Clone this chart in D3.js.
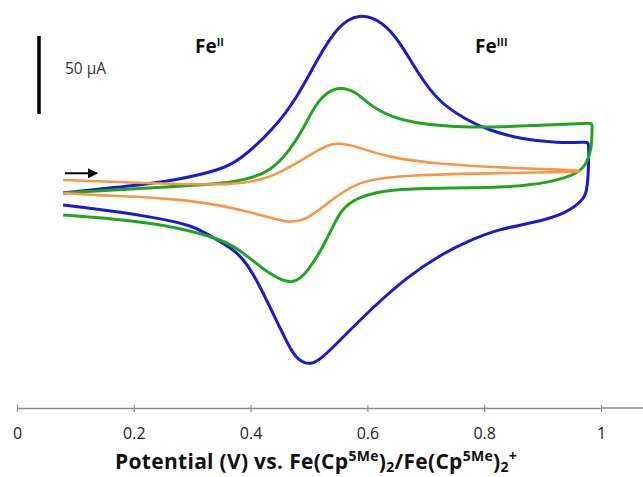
<!DOCTYPE html>
<html>
<head>
<meta charset="utf-8">
<script src="https://cdn.jsdelivr.net/npm/d3@7"></script>
<style>
  body { margin: 0; background: #fff; }
  svg { display: block; }
</style>
</head>
<body>
<svg id="chart" width="643" height="477"></svg>
<script>
// potential (V) and current (uA), one closed sweep per scan rate
const xTicks = [0, 0.2, 0.4, 0.6, 0.8, 1];

const blueV = [0.079, 0.142, 0.188, 0.274, 0.348, 0.382, 0.438, 0.479, 0.514, 0.548, 0.585, 0.627, 0.656, 0.690, 0.724, 0.771, 0.805, 0.866, 0.925, 0.977, 0.979,
  0.979, 0.976, 0.969, 0.942, 0.884, 0.827, 0.776, 0.724, 0.668, 0.610, 0.553, 0.524, 0.502, 0.479, 0.467, 0.438, 0.411, 0.382, 0.342, 0.301, 0.228, 0.188, 0.079];
const blueI = [-0.6, 2, 3.5, 7.7, 14.1, 20.5, 39.7, 60, 85, 106, 115, 109, 96, 74, 57, 46, 40, 33.5, 31.5, 32, 32,
  16, 0, -5.1, -13.5, -19.9, -23.5, -30.8, -40.4, -54.5, -73.7, -95, -106, -111.5, -107, -100, -77.6, -56.4, -39.1, -30.8, -21, -16, -13.5, -8.3];

const greenV = [0.079, 0.245, 0.382, 0.438, 0.467, 0.490, 0.514, 0.548, 0.582, 0.599, 0.639, 0.695, 0.805, 0.896, 0.985, 0.985,
  0.984, 0.976, 0.964, 0.913, 0.827, 0.724, 0.639, 0.582, 0.553, 0.531, 0.497, 0.473, 0.438, 0.382, 0.353, 0.274, 0.188, 0.079];
const greenI = [-0.6, 3.2, 5.5, 14.1, 26.9, 40, 59, 68.5, 64, 57, 48, 43, 41, 42.9, 44.2, 44.2,
  26.9, 19.2, 12.2, 5.8, 2.6, 2.6, 1.9, -3.2, -11.5, -30.8, -51.9, -59.5, -54.5, -37.2, -30.8, -22.4, -17.9, -14.7];

const orangeV = [0.079, 0.211, 0.382, 0.438, 0.497, 0.541, 0.582, 0.639, 0.724, 0.839, 0.952, 0.969,
  0.952, 0.839, 0.668, 0.582, 0.524, 0.497, 0.467, 0.382, 0.267, 0.125, 0.079];
const orangeI = [7.7, 5.8, 4, 9.6, 22.4, 33, 29, 21.8, 17.9, 15.4, 14.1, 13.3,
  12.8, 12.2, 10.9, 7.7, -9.6, -17, -21, -10.3, -3.8, -1.9, -0.6];

const scaleBarI = [50, 100];
const arrowV = [0.082, 0.137];
const arrowI = 12;

const series = [
  { v: blueV, i: blueI, color: "#1a1ad0", width: 3 },
  { v: greenV, i: greenI, color: "#20a520", width: 3 },
  { v: orangeV, i: orangeI, color: "#f79646", width: 2.6 }
];

const svg = d3.select("#chart");
const fontFamily = "'Open Sans', 'Noto Sans', sans-serif";

const xScale = d3.scaleLinear().domain([0, 1]).range([17, 601]);
const yScale = d3.scaleLinear().domain([0, 50]).range([192, 114]);

// x axis
const axisY = 408;
const axisG = svg.append("g")
  .attr("transform", `translate(0,${axisY})`)
  .call(d3.axisBottom(xScale).tickValues(xTicks).tickSizeOuter(0).tickSizeInner(4)
    .tickPadding(16).tickFormat(d3.format("~g")));
axisG.select(".domain").attr("stroke", "#8c8c8c").attr("stroke-width", 1.5);
axisG.selectAll(".tick line").attr("stroke", "#8c8c8c").attr("y1", -3).attr("stroke-width", 1.2);
axisG.selectAll(".tick text")
  .attr("fill", "#222")
  .style("font-size", "16px")
  .style("font-family", fontFamily);
svg.append("line")
  .attr("x1", xScale(1)).attr("x2", 643)
  .attr("y1", axisY).attr("y2", axisY)
  .attr("stroke", "#8c8c8c").attr("stroke-width", 1.5);

// axis title with super/subscripts
const title = svg.append("text")
  .attr("x", 115).attr("y", 469)
  .attr("font-family", fontFamily)
  .attr("font-weight", "bold")
  .attr("font-size", "21px")
  .attr("letter-spacing", "0.3px")
  .attr("fill", "#111");
const parts = [
  ["Potential (V) vs. Fe(Cp", 0], ["5Me", 1], [")", 0], ["2", -1],
  ["/Fe(Cp", 0], ["5Me", 1], [")", 0], ["2", -1], ["+", 1]
];
let shift = 0;
parts.forEach(([txt, kind]) => {
  const target = kind === 1 ? -8 : kind === -1 ? 3 : 0;
  title.append("tspan")
    .attr("dy", target - shift)
    .attr("font-size", kind === 0 ? "21px" : "14px")
    .text(txt);
  shift = target;
});

// curves
const line = d3.line()
  .x(d => xScale(d[0]))
  .y(d => yScale(d[1]))
  .curve(d3.curveBasis);

series.forEach(s => {
  svg.append("path")
    .datum(s.v.map((v, k) => [v, s.i[k]]))
    .attr("fill", "none")
    .attr("stroke", s.color)
    .attr("stroke-width", s.width)
    .attr("stroke-linejoin", "round")
    .attr("d", line);
});

// scale bar
svg.append("line")
  .attr("x1", 39).attr("x2", 39)
  .attr("y1", yScale(scaleBarI[0])).attr("y2", yScale(scaleBarI[1]))
  .attr("stroke", "#000").attr("stroke-width", 3.5);
svg.append("text")
  .attr("x", 65).attr("y", 74)
  .attr("font-family", fontFamily)
  .attr("font-size", "15.5px")
  .attr("fill", "#333")
  .text("50 \u00b5A");

// sweep direction arrow
svg.append("defs").append("marker")
  .attr("id", "head")
  .attr("viewBox", "0 0 10 10")
  .attr("refX", 9).attr("refY", 5)
  .attr("markerWidth", 10).attr("markerHeight", 10)
  .attr("markerUnits", "userSpaceOnUse")
  .attr("orient", "auto")
  .append("path")
  .attr("d", "M0,0L10,5L0,10z")
  .attr("fill", "#000");
svg.append("line")
  .attr("x1", xScale(arrowV[0])).attr("x2", xScale(arrowV[1]))
  .attr("y1", yScale(arrowI)).attr("y2", yScale(arrowI))
  .attr("stroke", "#000").attr("stroke-width", 2)
  .attr("marker-end", "url(#head)");

// oxidation state labels
function feLabel(x, sup) {
  const t = svg.append("text")
    .attr("x", x).attr("y", 53)
    .attr("font-family", fontFamily)
    .attr("font-weight", "bold")
    .attr("font-size", "19px")
    .attr("fill", "#111");
  t.append("tspan").text("Fe");
  t.append("tspan").attr("dy", -7).attr("font-size", "11px").text(sup);
}
feLabel(195, "II");
feLabel(475, "III");
</script>
</body>
</html>
